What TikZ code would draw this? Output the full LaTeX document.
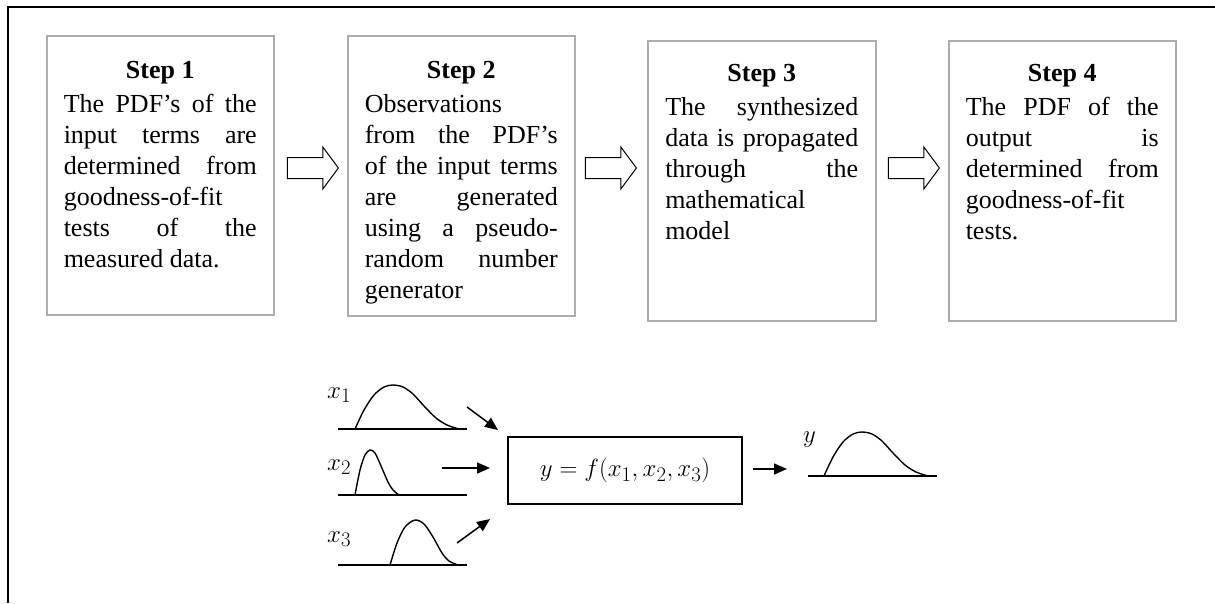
\documentclass[tikz,border=0pt]{standalone}
\usepackage{fontspec}
\setmainfont{Liberation Serif}
\usetikzlibrary{arrows.meta,positioning,shapes.arrows,calc}

\begin{document}
\begin{tikzpicture}[
    x=1pt,
    y=-1pt,
    >={Triangle[length=13pt,width=11pt]},
    frameline/.style={line width=2pt,draw=black},
    stepbox/.style={draw=gray!65,line width=1.5pt,inner sep=0pt,
        anchor=north west,minimum width=227pt,minimum height=280pt},
    steptitle/.style={font=\fontsize{26}{31}\selectfont\bfseries,
        anchor=base,inner sep=0pt},
    steptext/.style={font=\fontsize{26}{31}\selectfont,text width=193pt,
        align=justify,anchor=north,inner sep=0pt,
        execute at begin node={\hyphenpenalty=10000\exhyphenpenalty=10000}},
    blockarrow/.style={single arrow,draw=black,line width=1pt,
        minimum height=51pt,inner sep=0pt,inner ysep=10pt,
        single arrow head extend=10.5pt,single arrow tip angle=107},
    curve/.style={line width=1.4pt,draw=black},
    feed/.style={line width=1.5pt,->},
    varlabel/.style={font=\fontsize{29}{34}\selectfont,anchor=base west,inner sep=0pt},
    funcbox/.style={draw=black,line width=1.3pt,minimum width=234pt,
        minimum height=67pt,font=\fontsize{29}{34}\selectfont}
]

\useasboundingbox (0,0) rectangle (1215,603);

% ---------------------------------------------------------
% Outer frame
% ---------------------------------------------------------

\draw[frameline]
    (8,603) -- (8,7) -- (1215,7);

% ---------------------------------------------------------
% The four steps
% ---------------------------------------------------------

\node[stepbox,minimum height=279pt] (step1) at (46,35) {};
\node[stepbox] (step2) at (347,35) {};
\node[stepbox,minimum width=228pt] (step3) at (647,40) {};
\node[stepbox] (step4) at (948,40) {};

\node[steptitle] (title1) at ([yshift=-43pt]step1.north) {Step 1};
\node[steptitle] (title2) at ([yshift=-43pt]step2.north) {Step 2};
\node[steptitle] (title3) at ([yshift=-41pt]step3.north) {Step 3};
\node[steptitle] (title4) at ([yshift=-41pt]step4.north) {Step 4};

\node[steptext] (text1) at ([yshift=-59pt]step1.north)
    {The PDF’s of the\linebreak
     input terms are\linebreak
     determined from\linebreak
     goodness-of-fit\\
     tests of the\linebreak
     measured data.};

\node[steptext] (text2) at ([yshift=-59pt]step2.north)
    {Observations\\
     from the PDF’s\linebreak
     of the input terms\linebreak
     are generated\linebreak
     using a pseudo-\linebreak
     random number\linebreak
     generator};

\node[steptext] (text3) at ([yshift=-57pt]step3.north)
    {The synthesized\linebreak
     data is propagated\linebreak
     through the\linebreak
     mathematical\\
     model};

\node[steptext] (text4) at ([yshift=-57pt]step4.north)
    {The PDF of the\linebreak
     output is\linebreak
     determined from\linebreak
     goodness-of-fit\\
     tests.};

% Block arrows between the steps
\node[blockarrow] (arrow12) at (309,168) {};
\node[blockarrow] (arrow23) at (607,168) {};
\node[blockarrow] (arrow34) at (910,168) {};

% ---------------------------------------------------------
% Input distributions
% ---------------------------------------------------------

\node[varlabel] (lx1) at (327,398) {$x_1$};
\node[varlabel] (lx2) at (327,470) {$x_2$};
\node[varlabel] (lx3) at (327,542) {$x_3$};

\draw[curve] (338,429) -- (467,429);
\draw[curve] (338,495) -- (467,495);
\draw[curve] (338,565) -- (467,565);

\draw[curve]
    plot[smooth] coordinates {
        (355,429) (364,410) (374,395) (384,387) (393,385)
        (403,387) (413,394) (424,406) (436,418) (447,425) (459,429)
    };

\draw[curve]
    plot[smooth] coordinates {
        (355,495) (360,470) (365,455) (370,450) (375,453)
        (381,466) (388,482) (393,490) (399,495)
    };

\draw[curve]
    plot[smooth] coordinates {
        (390,565) (397,543) (405,527) (415,520) (424,524)
        (433,537) (442,553) (449,561) (458,565)
    };

% ---------------------------------------------------------
% Model
% ---------------------------------------------------------

\node[funcbox] (model) at (625,470.5) {$y=f(x_1,x_2,x_3)$};

\coordinate (in1s) at (467,407);
\coordinate (in1e) at (498,430);
\coordinate (in2s) at (442,468);
\coordinate (in2e) at (490,468);
\coordinate (in3s) at (457,543);
\coordinate (in3e) at (490,519);

\draw[feed] (in1s) -- (in1e);
\draw[feed] (in2s) -- (in2e);
\draw[feed] (in3s) -- (in3e);

\coordinate (oute) at (787,469);
\draw[feed] ([xshift=10pt]model.east |- oute) -- (oute);

% ---------------------------------------------------------
% Output distribution
% ---------------------------------------------------------

\node[varlabel] (ly) at (803,442) {$y$};

\draw[curve] (808,476) -- (937,476);

\draw[curve]
    plot[smooth] coordinates {
        (824,476) (833,457) (843,442) (853,434) (862,432)
        (872,434) (882,441) (893,453) (905,465) (916,472) (928,476)
    };

\end{tikzpicture}
\end{document}
